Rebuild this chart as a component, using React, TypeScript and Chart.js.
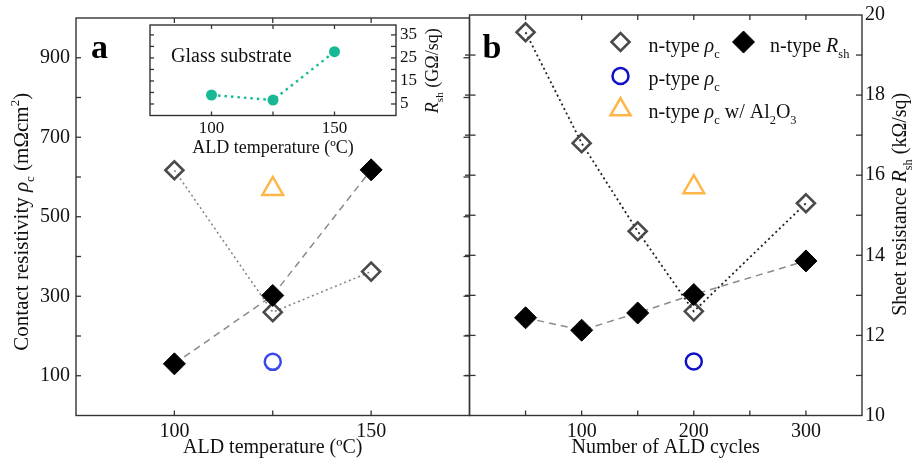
import React, { useEffect, useRef } from 'react';
import { Chart, registerables } from 'chart.js';

Chart.register(...registerables);

const SERIF = "'Liberation Serif', 'Times New Roman', Times, serif";
const INK = '#111111';
Chart.defaults.font.family = SERIF;

// ---------------- data ----------------
// (a) versus ALD temperature (ºC)
const temperatures = [100, 125, 150];
const nRhoVsTemp = [617, 260, 362]; // mΩcm²
const nRshVsTemp = [11.3, 13.02, 16.18]; // kΩ/sq (right axis of b)
const pRhoTempX = [125];
const pRhoVsTemp = [135];
const alRhoTempX = [125];
const alRhoVsTemp = [570];

// (b) versus number of ALD cycles
const cycles = [50, 100, 150, 200, 300];
const nRhoVsCycles = [957, 680, 460, 260, 530];
const nRshVsCycles = [12.44, 12.13, 12.56, 13.02, 13.86];
const pRhoCyclesX = [200];
const pRhoVsCycles = [135];
const alRhoCyclesX = [200];
const alRhoVsCycles = [570];

// inset: glass substrate
const glassTemps = [100, 125, 150];
const glassRsh = [8.9, 6.7, 27.7]; // GΩ/sq

// axes / ticks
const rhoMin = 0;
const rhoMax = 1000;
const rhoLabels = [100, 300, 500, 700, 900];
const rhoMinor = [100, 200, 300, 400, 500, 600, 700, 800, 900];
const tempMin = 75;
const tempMax = 175;
const tempLabels = [100, 150];
const tempMinor = [100, 125, 150];
const cycleMin = 0;
const cycleMax = 350;
const cycleLabels = [100, 200, 300];
const cycleMinor = [50, 100, 150, 200, 250, 300];
const rshMin = 10;
const rshMax = 20;
const rshLabels = [10, 12, 14, 16, 18, 20];
const rshMinor = [11, 12, 13, 14, 15, 16, 17, 18, 19];
const insetMin = 0;
const insetMax = 39.3;
const insetLabels = [5, 15, 25, 35];
const insetMinor = [5, 10, 15, 20, 25, 30, 35];

// ---------------- styles ----------------
const C_OPEN = '#4a4a4a';
const C_FILLED = '#000000';
const C_P_A = '#3a48ec';
const C_P_B = '#1010c8';
const C_AL = '#ffb648';
const C_GLASS = '#16b994';

type Seg = { t: string; it?: boolean; sub?: boolean; sup?: boolean; b?: boolean };

function drawRich(
  ctx: CanvasRenderingContext2D,
  segs: Seg[],
  x: number,
  y: number,
  size: number,
  align: 'left' | 'center',
  rot = 0,
  color = INK
) {
  ctx.save();
  ctx.translate(x, y);
  if (rot) ctx.rotate(rot);
  ctx.textBaseline = 'alphabetic';
  ctx.textAlign = 'left';
  ctx.fillStyle = color;
  const fontFor = (s: Seg) =>
    `${s.it ? 'italic ' : ''}${s.b ? 'bold ' : ''}${s.sub || s.sup ? size * 0.62 : size}px ${SERIF}`;
  let total = 0;
  const widths = segs.map((s) => {
    ctx.font = fontFor(s);
    const w = ctx.measureText(s.t).width;
    total += w;
    return w;
  });
  let cx = align === 'center' ? -total / 2 : 0;
  segs.forEach((s, i) => {
    ctx.font = fontFor(s);
    const dy = s.sub ? size * 0.28 : s.sup ? -size * 0.42 : 0;
    ctx.fillText(s.t, cx, dy);
    cx += widths[i];
  });
  ctx.restore();
}

type TickSpec = {
  scale: string;
  side: 'left' | 'right' | 'top' | 'bottom';
  values: number[];
  inLen: number;
  outLen?: number;
};

function framePlugin(id: string, specs: TickSpec[], whiteBg = false) {
  return {
    id,
    beforeDatasetsDraw(chart: any) {
      if (!whiteBg) return;
      const { ctx, chartArea: a } = chart;
      ctx.save();
      ctx.fillStyle = '#ffffff';
      ctx.fillRect(a.left, a.top, a.right - a.left, a.bottom - a.top);
      ctx.restore();
    },
    afterDraw(chart: any) {
      const { ctx, chartArea: a } = chart;
      ctx.save();
      ctx.strokeStyle = '#333333';
      ctx.lineWidth = 1.4;
      ctx.strokeRect(a.left, a.top, a.right - a.left, a.bottom - a.top);
      ctx.lineWidth = 1.3;
      specs.forEach((s) => {
        const sc = chart.scales[s.scale];
        const out = s.outLen || 0;
        s.values.forEach((v) => {
          const p = sc.getPixelForValue(v);
          ctx.beginPath();
          if (s.side === 'left') {
            ctx.moveTo(a.left - out, p);
            ctx.lineTo(a.left + s.inLen, p);
          } else if (s.side === 'right') {
            ctx.moveTo(a.right + out, p);
            ctx.lineTo(a.right - s.inLen, p);
          } else if (s.side === 'top') {
            ctx.moveTo(p, a.top - out);
            ctx.lineTo(p, a.top + s.inLen);
          } else {
            ctx.moveTo(p, a.bottom + out);
            ctx.lineTo(p, a.bottom - s.inLen);
          }
          ctx.stroke();
        });
      });
      ctx.restore();
    },
  };
}

const pts = (xs: number[], ys: number[]) => xs.map((x, i) => ({ x, y: ys[i] }));
const fixedTicks = (values: number[]) => (scale: any) => {
  scale.ticks = values.map((v) => ({ value: v }));
};
const font = (size: number) => ({ family: SERIF, size });

const rhoTitle: Seg[] = [
  { t: 'Contact resistivity ' },
  { t: 'ρ', it: true },
  { t: 'c', sub: true },
  { t: ' (mΩcm' },
  { t: '2', sup: true },
  { t: ')' },
];
const rshTitle: Seg[] = [
  { t: 'Sheet resistance ' },
  { t: 'R', it: true },
  { t: 'sh', sub: true },
  { t: ' (kΩ/sq)' },
];

function baseOptions(padding: any) {
  return {
    responsive: false,
    animation: false as const,
    devicePixelRatio: 1,
    layout: { padding, autoPadding: false },
    plugins: { legend: { display: false }, tooltip: { enabled: false } },
  };
}

function makePanelA(canvas: HTMLCanvasElement) {
  const textPlugin = {
    id: 'textA',
    afterDraw(chart: any) {
      const { ctx, chartArea: a } = chart;
      drawRich(ctx, rhoTitle, a.left - 48, (a.top + a.bottom) / 2 + 5, 21, 'center', -Math.PI / 2);
      drawRich(ctx, [{ t: 'ALD temperature (ºC)' }], (a.left + a.right) / 2, a.bottom + 37.5, 20, 'center');
      drawRich(ctx, [{ t: 'a', b: true }], a.left + 15, a.top + 40, 34, 'left', 0, '#000');
    },
  };
  return new Chart(canvas, {
    type: 'line',
    data: {
      datasets: [
        {
          label: 'n-type Rsh',
          data: pts(temperatures, nRshVsTemp),
          yAxisID: 'yR',
          order: 1,
          borderColor: '#8a8a8a',
          borderWidth: 1.5,
          borderDash: [7, 5],
          pointStyle: 'rectRot',
          pointRadius: 11,
          pointBackgroundColor: C_FILLED,
          pointBorderColor: C_FILLED,
          pointBorderWidth: 1,
        },
        {
          label: 'n-type ρc',
          data: pts(temperatures, nRhoVsTemp),
          yAxisID: 'y',
          order: 2,
          borderColor: '#808080',
          borderWidth: 1.5,
          borderDash: [2, 3],
          pointStyle: 'rectRot',
          pointRadius: 9,
          pointBackgroundColor: 'rgba(255,255,255,0)',
          pointBorderColor: C_OPEN,
          pointBorderWidth: 2.6,
        },
        {
          label: 'p-type ρc',
          data: pts(pRhoTempX, pRhoVsTemp),
          yAxisID: 'y',
          order: 3,
          showLine: false,
          pointStyle: 'circle',
          pointRadius: 8,
          pointBackgroundColor: 'rgba(255,255,255,0)',
          pointBorderColor: C_P_A,
          pointBorderWidth: 2.5,
        },
        {
          label: 'n-type ρc w/ Al2O3',
          data: pts(alRhoTempX, alRhoVsTemp),
          yAxisID: 'y',
          order: 3,
          showLine: false,
          pointStyle: 'triangle',
          pointRadius: 12,
          pointBackgroundColor: 'rgba(255,255,255,0)',
          pointBorderColor: C_AL,
          pointBorderWidth: 2.5,
        },
      ] as any,
    },
    options: {
      ...baseOptions({ left: 0, top: 15, right: 2.5, bottom: 0 }),
      scales: {
        x: {
          type: 'linear',
          min: tempMin,
          max: tempMax,
          grid: { display: false, drawTicks: false },
          border: { display: false },
          afterBuildTicks: fixedTicks(tempLabels),
          afterFit: (s: any) => {
            s.height = 46.5;
          },
          ticks: { font: font(20), color: INK, padding: 4 },
        },
        y: {
          type: 'linear',
          min: rhoMin,
          max: rhoMax,
          grid: { display: false, drawTicks: false },
          border: { display: false },
          afterBuildTicks: fixedTicks(rhoLabels),
          afterFit: (s: any) => {
            s.width = 76;
          },
          ticks: { font: font(20), color: INK, padding: 6 },
        },
        yR: { type: 'linear', display: false, min: rshMin, max: rshMax },
      },
    } as any,
    plugins: [
      framePlugin('frameA', [
        { scale: 'y', side: 'left', values: rhoMinor, inLen: 5 },
        { scale: 'y', side: 'right', values: rhoMinor, inLen: 6 },
        { scale: 'x', side: 'top', values: tempMinor, inLen: 5 },
        { scale: 'x', side: 'bottom', values: tempMinor, inLen: 5 },
      ]),
      textPlugin,
    ] as any,
  });
}

function drawMarker(
  ctx: CanvasRenderingContext2D,
  style: 'diamond' | 'circle' | 'triangle',
  x: number,
  y: number,
  r: number,
  stroke: string,
  fill: string | null,
  lw: number
) {
  ctx.save();
  ctx.beginPath();
  if (style === 'diamond') {
    ctx.moveTo(x - r, y);
    ctx.lineTo(x, y - r);
    ctx.lineTo(x + r, y);
    ctx.lineTo(x, y + r);
    ctx.closePath();
  } else if (style === 'circle') {
    ctx.arc(x, y, r, 0, Math.PI * 2);
  } else {
    for (let k = 0; k < 3; k++) {
      const ang = (k * 2 * Math.PI) / 3;
      const px = x + Math.sin(ang) * r;
      const py = y - Math.cos(ang) * r;
      if (k === 0) ctx.moveTo(px, py);
      else ctx.lineTo(px, py);
    }
    ctx.closePath();
  }
  if (fill) {
    ctx.fillStyle = fill;
    ctx.fill();
  }
  ctx.strokeStyle = stroke;
  ctx.lineWidth = lw;
  ctx.stroke();
  ctx.restore();
}

function makePanelB(canvas: HTMLCanvasElement) {
  const textPlugin = {
    id: 'textB',
    afterDraw(chart: any) {
      const { ctx, chartArea: a } = chart;
      drawRich(ctx, rshTitle, a.right + 44, (a.top + a.bottom) / 2 - 11, 20, 'center', -Math.PI / 2);
      drawRich(ctx, [{ t: 'Number of ALD cycles' }], (a.left + a.right) / 2, a.bottom + 37.5, 20, 'center');
      drawRich(ctx, [{ t: 'b', b: true }], a.left + 13, a.top + 43, 34, 'left', 0, '#000');
      // legend
      const m1 = a.left + 151;
      const m2 = a.left + 274;
      const t1 = a.left + 179;
      const t2 = a.left + 300.5;
      drawMarker(ctx, 'diamond', m1, a.top + 27, 9, C_OPEN, null, 2.6);
      drawRich(ctx, [{ t: 'n-type ' }, { t: 'ρ', it: true }, { t: 'c', sub: true }], t1, a.top + 37, 20, 'left');
      drawMarker(ctx, 'diamond', m2, a.top + 27, 11, C_FILLED, C_FILLED, 1);
      drawRich(ctx, [{ t: 'n-type ' }, { t: 'R', it: true }, { t: 'sh', sub: true }], t2, a.top + 37, 20, 'left');
      drawMarker(ctx, 'circle', m1, a.top + 61, 8, C_P_B, null, 2.5);
      drawRich(ctx, [{ t: 'p-type ' }, { t: 'ρ', it: true }, { t: 'c', sub: true }], t1, a.top + 70, 20, 'left');
      drawMarker(ctx, 'triangle', m1, a.top + 94.5, 11.5, C_AL, null, 2.5);
      drawRich(
        ctx,
        [
          { t: 'n-type ' },
          { t: 'ρ', it: true },
          { t: 'c', sub: true },
          { t: ' w/ Al' },
          { t: '2', sub: true },
          { t: 'O' },
          { t: '3', sub: true },
        ],
        t1,
        a.top + 103,
        20,
        'left'
      );
    },
  };
  return new Chart(canvas, {
    type: 'line',
    data: {
      datasets: [
        {
          label: 'n-type Rsh',
          data: pts(cycles, nRshVsCycles),
          yAxisID: 'yR',
          order: 1,
          borderColor: '#8a8a8a',
          borderWidth: 1.5,
          borderDash: [7, 5],
          pointStyle: 'rectRot',
          pointRadius: 11,
          pointBackgroundColor: C_FILLED,
          pointBorderColor: C_FILLED,
          pointBorderWidth: 1,
        },
        {
          label: 'n-type ρc',
          data: pts(cycles, nRhoVsCycles),
          yAxisID: 'y',
          order: 2,
          borderColor: '#222222',
          borderWidth: 1.8,
          borderDash: [2, 3],
          pointStyle: 'rectRot',
          pointRadius: 9,
          pointBackgroundColor: 'rgba(255,255,255,0)',
          pointBorderColor: C_OPEN,
          pointBorderWidth: 2.6,
        },
        {
          label: 'p-type ρc',
          data: pts(pRhoCyclesX, pRhoVsCycles),
          yAxisID: 'y',
          order: 3,
          showLine: false,
          pointStyle: 'circle',
          pointRadius: 8,
          pointBackgroundColor: 'rgba(255,255,255,0)',
          pointBorderColor: C_P_B,
          pointBorderWidth: 2.5,
        },
        {
          label: 'n-type ρc w/ Al2O3',
          data: pts(alRhoCyclesX, alRhoVsCycles),
          yAxisID: 'y',
          order: 3,
          showLine: false,
          pointStyle: 'triangle',
          pointRadius: 12,
          pointBackgroundColor: 'rgba(255,255,255,0)',
          pointBorderColor: C_AL,
          pointBorderWidth: 2.5,
        },
      ] as any,
    },
    options: {
      ...baseOptions({ left: 4.5, top: 15, right: 0, bottom: 0 }),
      scales: {
        x: {
          type: 'linear',
          min: cycleMin,
          max: cycleMax,
          grid: { display: false, drawTicks: false },
          border: { display: false },
          afterBuildTicks: fixedTicks(cycleLabels),
          afterFit: (s: any) => {
            s.height = 46.5;
          },
          ticks: { font: font(20), color: INK, padding: 4 },
        },
        y: { type: 'linear', display: false, min: rhoMin, max: rhoMax },
        yR: {
          type: 'linear',
          position: 'right',
          min: rshMin,
          max: rshMax,
          grid: { display: false, drawTicks: false },
          border: { display: false },
          afterBuildTicks: fixedTicks(rshLabels),
          afterFit: (s: any) => {
            s.width = 50;
          },
          ticks: { font: font(20), color: INK, padding: 3 },
        },
      },
    } as any,
    plugins: [
      framePlugin('frameB', [
        { scale: 'y', side: 'left', values: rhoMinor, inLen: 6, outLen: 6 },
        { scale: 'yR', side: 'right', values: rshMinor, inLen: 6 },
        { scale: 'x', side: 'top', values: cycleMinor, inLen: 5 },
        { scale: 'x', side: 'bottom', values: cycleMinor, inLen: 5 },
      ]),
      textPlugin,
    ] as any,
  });
}

function makeInset(canvas: HTMLCanvasElement) {
  const textPlugin = {
    id: 'textInset',
    afterDraw(chart: any) {
      const { ctx, chartArea: a } = chart;
      drawRich(ctx, [{ t: 'Glass substrate' }], a.left + 21, a.top + 37, 20, 'left');
      drawRich(ctx, [{ t: 'ALD temperature (ºC)' }], (a.left + a.right) / 2, a.bottom + 37.5, 18, 'center');
      drawRich(
        ctx,
        [{ t: 'R', it: true }, { t: 'sh', sub: true }, { t: ' (GΩ/sq)' }],
        a.right + 42,
        (a.top + a.bottom) / 2 + 0.5,
        18,
        'center',
        -Math.PI / 2
      );
    },
  };
  return new Chart(canvas, {
    type: 'line',
    data: {
      datasets: [
        {
          label: 'Glass substrate',
          data: pts(glassTemps, glassRsh),
          borderColor: C_GLASS,
          borderWidth: 2.4,
          borderDash: [2.5, 4],
          pointStyle: 'circle',
          pointRadius: 5.5,
          pointBackgroundColor: C_GLASS,
          pointBorderColor: C_GLASS,
          pointBorderWidth: 0,
        },
      ] as any,
    },
    options: {
      ...baseOptions({ left: 10, top: 25, right: 0, bottom: 0 }),
      scales: {
        x: {
          type: 'linear',
          min: tempMin,
          max: tempMax,
          grid: { display: false, drawTicks: false },
          border: { display: false },
          afterBuildTicks: fixedTicks(tempLabels),
          afterFit: (s: any) => {
            s.height = 49.5;
          },
          ticks: { font: font(17), color: INK, padding: 2.5 },
        },
        y: {
          type: 'linear',
          position: 'right',
          min: insetMin,
          max: insetMax,
          grid: { display: false, drawTicks: false },
          border: { display: false },
          afterBuildTicks: fixedTicks(insetLabels),
          afterFit: (s: any) => {
            s.width = 64;
          },
          ticks: { font: font(17), color: INK, padding: 4 },
        },
      },
    } as any,
    plugins: [
      framePlugin(
        'frameInset',
        [
          { scale: 'y', side: 'left', values: insetMinor, inLen: 4 },
          { scale: 'y', side: 'right', values: insetMinor, inLen: 5 },
          { scale: 'x', side: 'top', values: tempMinor, inLen: 4 },
          { scale: 'x', side: 'bottom', values: tempMinor, inLen: 4 },
        ],
        true
      ),
      textPlugin,
    ] as any,
  });
}

export default function App() {
  const aRef = useRef<HTMLCanvasElement>(null);
  const bRef = useRef<HTMLCanvasElement>(null);
  const iRef = useRef<HTMLCanvasElement>(null);

  useEffect(() => {
    const charts = [makePanelA(aRef.current!), makePanelB(bRef.current!), makeInset(iRef.current!)];
    return () => charts.forEach((c) => c.destroy());
  }, []);

  return (
    <div
      style={{
        position: 'absolute',
        left: 0,
        top: 0,
        width: 912,
        height: 462,
        background: '#ffffff',
        overflow: 'hidden',
      }}
    >
      <canvas ref={aRef} width={472} height={462} style={{ position: 'absolute', left: 0, top: 0 }} />
      <canvas ref={bRef} width={447} height={462} style={{ position: 'absolute', left: 465, top: 0 }} />
      <canvas ref={iRef} width={320} height={165} style={{ position: 'absolute', left: 140, top: 0 }} />
    </div>
  );
}
